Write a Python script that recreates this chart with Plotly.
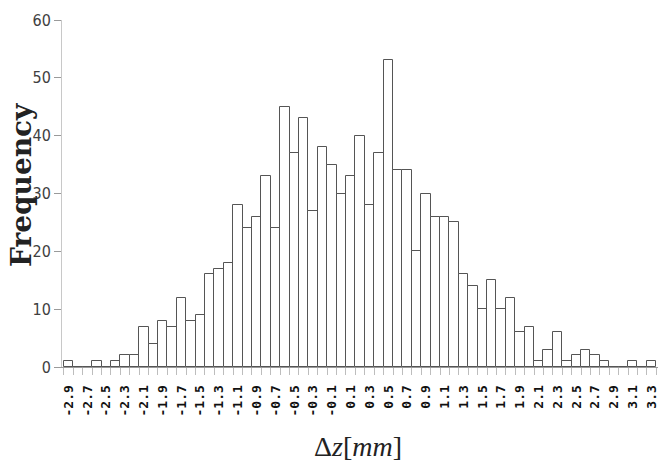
import plotly.graph_objects as go

# Bin centres (Δz in mm) and frequency counts
bin_centers = [-2.9, -2.8, -2.7, -2.6, -2.5, -2.4, -2.3, -2.2, -2.1, -2.0,
               -1.9, -1.8, -1.7, -1.6, -1.5, -1.4, -1.3, -1.2, -1.1, -1.0,
               -0.9, -0.8, -0.7, -0.6, -0.5, -0.4, -0.3, -0.2, -0.1, 0.0,
               0.1, 0.2, 0.3, 0.4, 0.5, 0.6, 0.7, 0.8, 0.9, 1.0,
               1.1, 1.2, 1.3, 1.4, 1.5, 1.6, 1.7, 1.8, 1.9, 2.0,
               2.1, 2.2, 2.3, 2.4, 2.5, 2.6, 2.7, 2.8, 2.9, 3.0,
               3.1, 3.2, 3.3]
frequency = [1, 0, 0, 1, 0, 1, 2, 2, 7, 4,
             8, 7, 12, 8, 9, 16, 17, 18, 28, 24,
             26, 33, 24, 45, 37, 43, 27, 38, 35, 30,
             33, 40, 28, 37, 53, 34, 34, 20, 30, 26,
             26, 25, 16, 14, 10, 15, 10, 12, 6, 7,
             1, 3, 6, 1, 2, 3, 2, 1, 0, 0,
             1, 0, 1]
tick_labels = ["-2.9", "-2.7", "-2.5", "-2.3", "-2.1", "-1.9", "-1.7", "-1.5",
               "-1.3", "-1.1", "-0.9", "-0.7", "-0.5", "-0.3", "-0.1", "0.1",
               "0.3", "0.5", "0.7", "0.9", "1.1", "1.3", "1.5", "1.7", "1.9",
               "2.1", "2.3", "2.5", "2.7", "2.9", "3.1", "3.3"]

bin_width = 0.1
tick_vals = bin_centers[::2]
boundaries = [c - bin_width / 2 for c in bin_centers] + [bin_centers[-1] + bin_width / 2]

fig = go.Figure(go.Bar(
    x=bin_centers, y=frequency, width=bin_width,
    marker=dict(color="white", line=dict(color="#555555", width=1)),
    showlegend=False, hoverinfo="skip",
))

fig.update_layout(
    width=658, height=467,
    margin=dict(l=62, r=0, t=20, b=100),
    plot_bgcolor="white", paper_bgcolor="white",
    bargap=0,
    xaxis=dict(
        range=[-2.971, 3.369],
        tickmode="array", tickvals=tick_vals, ticktext=tick_labels,
        tickangle=-90, ticks="", ticklabelstandoff=12,
        ticklabeloverflow="allow",
        tickfont=dict(family="DejaVu Sans Mono", size=13, color="#111111", weight="bold"),
        showline=True, linecolor="#9a9a9a", linewidth=1,
        showgrid=False, zeroline=False,
        minor=dict(tickmode="array", tickvals=boundaries, ticks="outside",
                   ticklen=7, tickcolor="#bdbdbd", tickwidth=1, showgrid=False),
    ),
    yaxis=dict(
        range=[0, 60], dtick=10, tick0=0,
        ticks="outside", ticklen=7, tickcolor="#9a9a9a",
        tickfont=dict(family="Liberation Sans Narrow, DejaVu Sans Condensed, sans-serif",
                      size=16, color="#404040"),
        showline=True, linecolor="#c8c8c8", linewidth=1,
        showgrid=False, zeroline=False,
    ),
    annotations=[
        dict(text="<b>Frequency</b>", xref="paper", yref="paper",
             x=0, xshift=-40, y=0.5245, xanchor="center", yanchor="middle",
             textangle=-90, showarrow=False,
             font=dict(family="DejaVu Serif", size=28, color="#222222")),
        dict(text="Δ<i>z</i>[<i>mm</i>]", xref="paper", yref="paper",
             x=0.4966, y=-0.2277, xanchor="center", yanchor="middle",
             showarrow=False,
             font=dict(family="Liberation Serif", size=28, color="#222222")),
    ],
)

fig.write_html("out.html",
               config={"displayModeBar": False},
               post_script="document.body.style.margin='0';document.body.style.overflow='hidden';")
